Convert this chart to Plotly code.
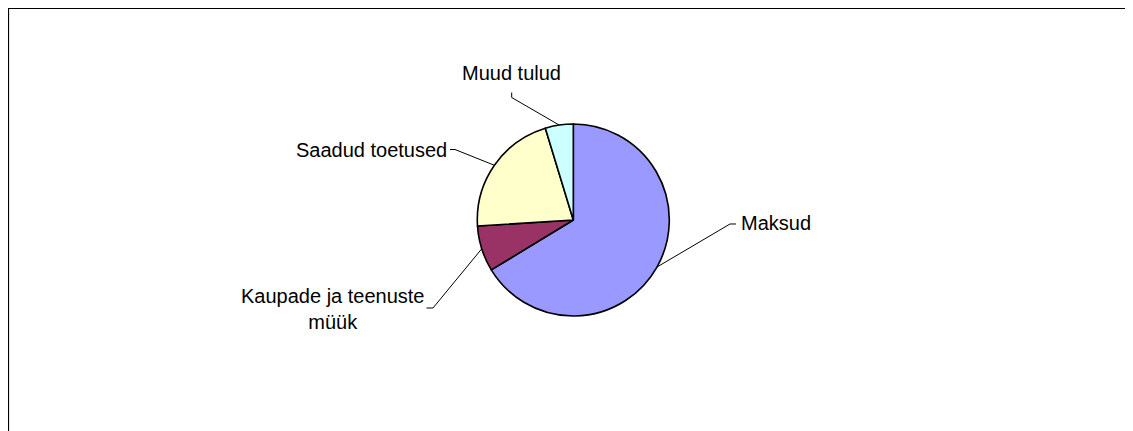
import math
import plotly.graph_objects as go

# Data
categories = ["Maksud", "Kaupade ja teenuste müük", "Saadud toetused", "Muud tulud"]
label_texts = ["Maksud", "Kaupade ja teenuste<br>müük", "Saadud toetused", "Muud tulud"]
values = [66.3, 7.7, 21.3, 4.7]
colors = ["#9999FF", "#993366", "#FFFFCC", "#CCFFFF"]

W, H = 1133, 431
OFF = 8  # page body margin
CX, CY, R = 573.3 - OFF, 220.0 - OFF, 96.0  # pie centre/radius in pixels (layout)


def px(x):
    return x / W


def py(y):
    return 1 - y / H


fig = go.Figure(go.Pie(
    labels=categories,
    values=values,
    sort=False,
    direction="clockwise",
    rotation=0,
    marker=dict(colors=colors, line=dict(color="black", width=1.6)),
    textinfo="none",
    hoverinfo="none",
    showlegend=False,
    domain=dict(x=[px(CX - R), px(CX + R)], y=[py(CY + R), py(CY - R)]),
))

# label layout (page pixels): text anchor x, y, xanchor, elbow points for leader line
label_layout = [
    dict(x=739, y=223, xanchor="left", path=[(730, 224), (736, 224)]),
    dict(x=332.5, y=308.5, xanchor="center", path=[(433, 308), (426.5, 308)]),
    dict(x=449, y=150, xanchor="right", path=[(455, 149.5), (450, 149.5)]),
    dict(x=511.7, y=73, xanchor="center", path=[(511.7, 97.5), (511.7, 92.5)]),
]

total = sum(values)
cum = 0.0
shapes = []
annotations = []
for v, txt, lay in zip(values, label_texts, label_layout):
    mid = (cum + v / 2) / total * 2 * math.pi
    cum += v
    sx = CX + R * math.sin(mid)
    sy = CY - R * math.cos(mid)
    pts = [(sx, sy)] + [(a - OFF, b - OFF) for a, b in lay["path"]]
    d = "M " + " L ".join(f"{px(a):.5f},{py(b):.5f}" for a, b in pts)
    shapes.append(dict(type="path", path=d, xref="paper", yref="paper",
                       line=dict(color="black", width=1)))
    annotations.append(dict(text=txt, x=px(lay["x"] - OFF), y=py(lay["y"] - OFF),
                            xref="paper", yref="paper",
                            xanchor=lay["xanchor"], yanchor="middle", showarrow=False,
                            align="center",
                            font=dict(family="Liberation Sans, Arial", size=20, color="black")))

# outer chart border
shapes.append(dict(type="rect", xref="paper", yref="paper",
                   x0=px(0.5), y0=py(0.5), x1=px(W + 20), y1=py(H + 20),
                   line=dict(color="black", width=1.2)))

fig.update_layout(
    width=W, height=H,
    margin=dict(l=0, r=0, t=0, b=0),
    paper_bgcolor="white", plot_bgcolor="white",
    shapes=shapes, annotations=annotations,
)

fig.write_html("out.html")
